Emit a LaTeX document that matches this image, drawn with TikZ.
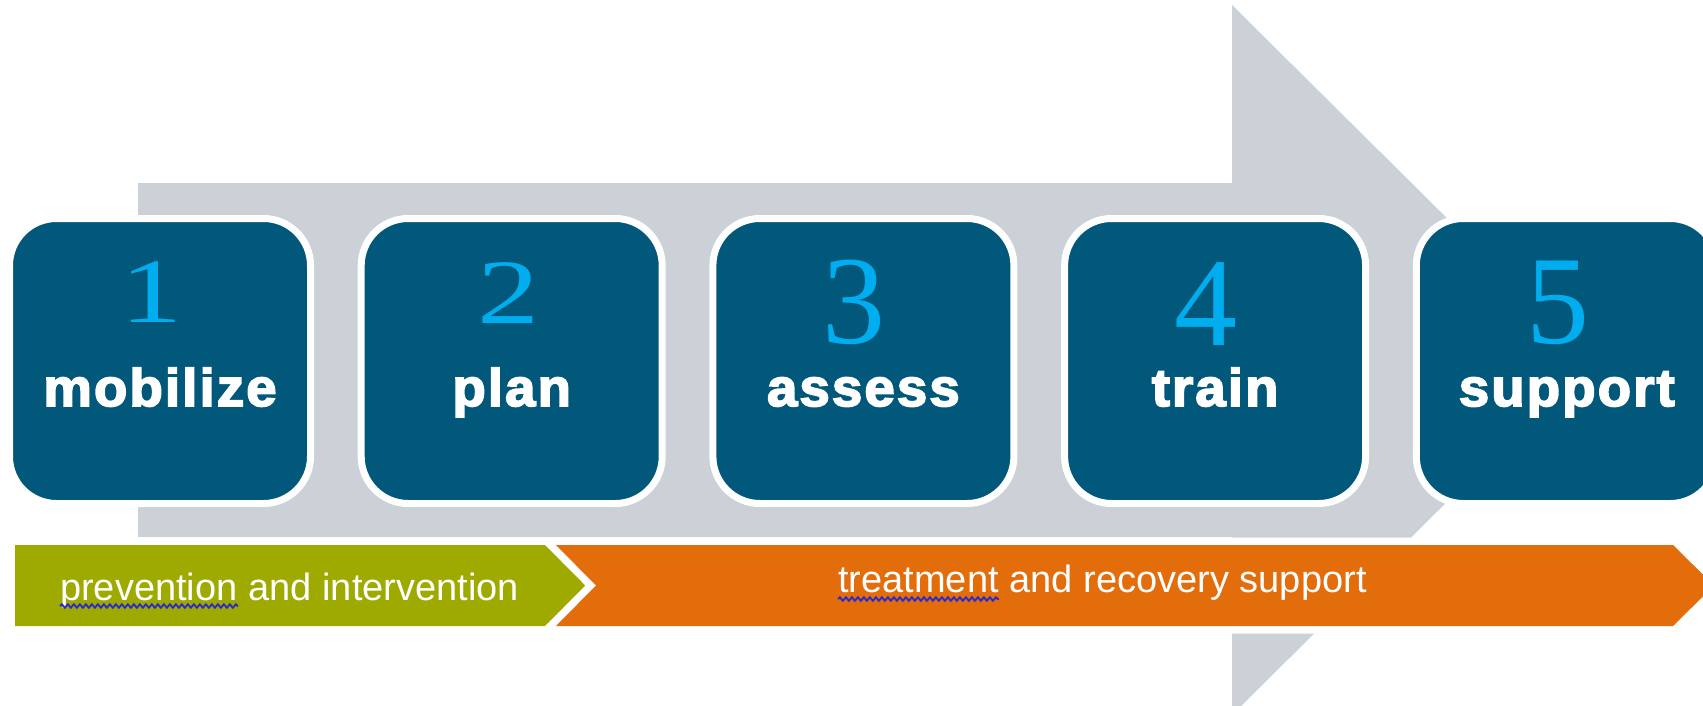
\documentclass[tikz,border=0pt]{standalone}
\usepackage{fontspec}
\setmainfont{Liberation Sans}
\newfontface\numfont{Liberation Serif}
\newfontface\numwidefont[FakeStretch=1.35]{Liberation Serif}
\newfontface\lblfont[FakeBold=3.2,FakeStretch=1.03,LetterSpace=4]{Liberation Sans Bold}
\usetikzlibrary{decorations.pathmorphing}
\definecolor{arrowgray}{HTML}{CCD1D8}
\definecolor{boxblue}{HTML}{02587B}
\definecolor{numblue}{HTML}{00AEEF}
\definecolor{bargreen}{HTML}{9EAA00}
\definecolor{barorange}{HTML}{E36C0B}
\definecolor{squig}{HTML}{2A2ACC}
\begin{document}
\begin{tikzpicture}[x=1pt,y=-1pt,
  stepbox/.style={draw=white, line width=7pt, fill=boxblue, rounded corners=47pt,
    minimum width=301pt, minimum height=285pt, inner sep=0pt},
  numsmall/.style={text=numblue, inner sep=0pt, anchor=base, font=\numwidefont\fontsize{92}{100}\selectfont},
  numbig/.style={text=numblue, inner sep=0pt, anchor=base, font=\numfont\fontsize{126}{130}\selectfont},
  lbltxt/.style={text=white, inner sep=0pt, anchor=base, font=\lblfont\fontsize{53}{60}\selectfont},
  bartxt/.style={text=white, inner sep=0pt, anchor=base west, font=\fontsize{38}{44}\selectfont},
  squiggle/.style={draw=squig, line width=1.8pt, decorate,
    decoration={snake, segment length=6pt, amplitude=1.8pt}},
  barshape/.style={preaction={draw=white, line width=15pt, line join=miter}}
]
\useasboundingbox (0,0) rectangle (1703,705);
\clip (0,0) rectangle (1703,705);
\fill[white] (0,0) rectangle (1703,705);

% big gray arrow
\fill[arrowgray] (138,183) -- (1232,183) -- (1232,5) -- (1590,360) -- (1232,715)
  -- (1232,537) -- (138,537) -- cycle;

% step boxes
\node[stepbox] (b1) at (160,361) {};
\node[stepbox] (b2) at (511.7,361) {};
\node[stepbox] (b3) at (863.4,361) {};
\node[stepbox] (b4) at (1215.1,361) {};
\node[stepbox] (b5) at (1566.8,361) {};

\node[numsmall] (n1) at (152,322) {1};
\node[numsmall] (n2) at (509,323) {2};
\node[numbig] (n3) at (854,343) {3};
\node[numbig] (n4) at (1206,345) {4};
\node[numbig] (n5) at (1558,343) {5};

\node[lbltxt] (l1) at (160,406) {mobilize};
\node[lbltxt] (l2) at (511.7,406) {plan};
\node[lbltxt] (l3) at (863.4,406) {assess};
\node[lbltxt] (l4) at (1215.1,406) {train};
\node[lbltxt] (l5) at (1566.8,406) {support};

% bars
\path[barshape, fill=bargreen] (15,545) -- (545,545) -- (586,585.5) -- (545,626) -- (15,626) -- cycle;
\path[barshape, fill=barorange] (556,545) -- (1673,545) -- (1714,585.5) -- (1673,626)
  -- (556,626) -- (596,585.5) -- cycle;

\node[bartxt] (prev) at (60,600) {prevention};
\node[bartxt] (prevrest) at (prev.base east) {\ and intervention};
\draw[squiggle] ([yshift=-6pt]prev.base west) -- ([yshift=-6pt]prev.base east);

\node[bartxt] (treat) at (838,592) {treatment};
\node[bartxt] (treatrest) at (treat.base east) {\ and recovery support};
\draw[squiggle] ([yshift=-7pt]treat.base west) -- ([yshift=-7pt]treat.base east);
\end{tikzpicture}
\end{document}
